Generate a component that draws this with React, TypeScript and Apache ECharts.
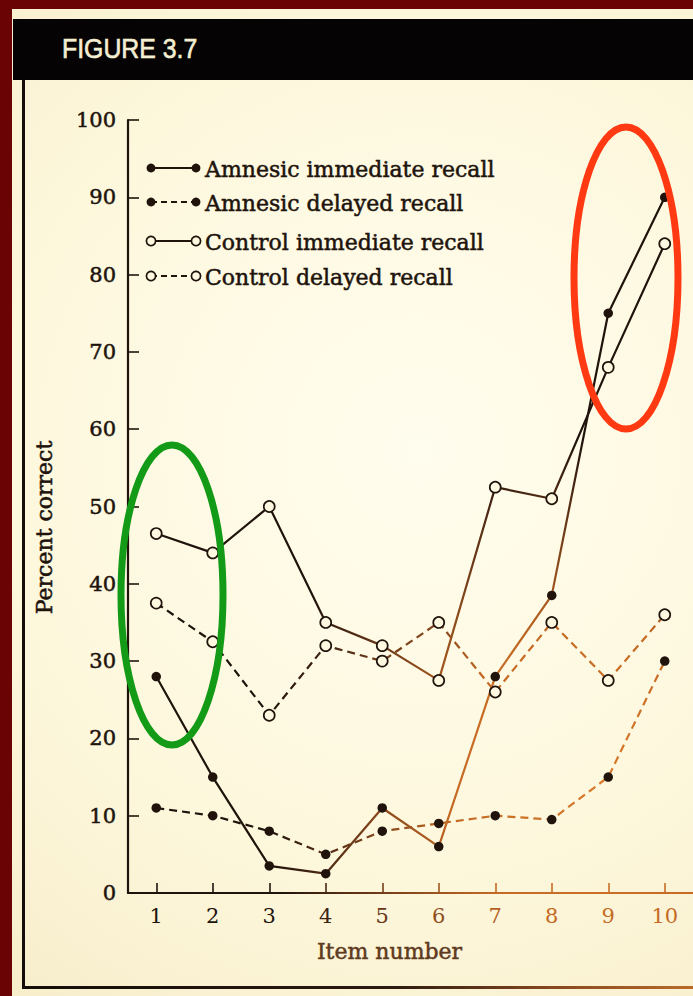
import React, { useEffect, useRef } from "react";
import * as echarts from "echarts";

// ---- data ----
const items = ["1", "2", "3", "4", "5", "6", "7", "8", "9", "10"];
const amnesicImmediate = [28, 15, 3.5, 2.5, 11, 6, 28, 38.5, 75, 90];
const amnesicDelayed = [11, 10, 8, 5, 8, 9, 10, 9.5, 15, 30];
const controlImmediate = [46.5, 44, 50, 35, 32, 27.5, 52.5, 51, 68, 84];
const controlDelayed = [37.5, 32.5, 23, 32, 30, 35, 26, 35, 27.5, 36];
const seriesNames = [
  "Amnesic immediate recall",
  "Amnesic delayed recall",
  "Control immediate recall",
  "Control delayed recall",
];
const yMin = 0;
const yMax = 100;
const yInterval = 10;
const figureTitle = "FIGURE 3.7";
const xAxisName = "Item number";
const yAxisName = "Percent correct";

// ---- styling helpers ----
const W = 693;
const H = 996;
const GRID_LEFT = 128;
const GRID_TOP = 120;
const GRID_BOTTOM = 103;
const INK = "#20130c";
const CREAM = "#fdf8df";
const SERIF = "DejaVu Serif";

const shadeCenter = { x: 600, y: 780, r: 340 };
const shadeStops = [
  { offset: 0, color: "#d97a2a" },
  { offset: 0.45, color: "#c46a24" },
  { offset: 0.75, color: "#6a3818" },
  { offset: 1, color: INK },
];
const shade = () => ({
  type: "radial",
  x: shadeCenter.x,
  y: shadeCenter.y,
  r: shadeCenter.r,
  global: true,
  colorStops: shadeStops,
});

function hexToRgb(h: string) {
  const n = parseInt(h.slice(1), 16);
  return [(n >> 16) & 255, (n >> 8) & 255, n & 255];
}
function shadeAt(px: number, py: number) {
  const d = Math.hypot(px - shadeCenter.x, py - shadeCenter.y) / shadeCenter.r;
  const t = Math.min(1, Math.max(0, d));
  for (let i = 1; i < shadeStops.length; i++) {
    const a = shadeStops[i - 1];
    const b = shadeStops[i];
    if (t <= b.offset) {
      const k = (t - a.offset) / (b.offset - a.offset);
      const ca = hexToRgb(a.color);
      const cb = hexToRgb(b.color);
      const c = ca.map((v, j) => Math.round(v + (cb[j] - v) * k));
      return `rgb(${c[0]},${c[1]},${c[2]})`;
    }
  }
  return INK;
}

const seriesData = [amnesicImmediate, amnesicDelayed, controlImmediate, controlDelayed];
const filled = [true, true, false, false];
const dashed = [false, true, false, true];

const boldish = (color: string) => ({ textBorderColor: color, textBorderWidth: 0.5 });

function buildOption() {
  const band = (W - GRID_LEFT) / items.length;
  const series = seriesData.map((data, i) => ({
    type: "line",
    name: seriesNames[i],
    data,
    symbol: "circle",
    symbolSize: filled[i] ? 9.5 : 11,
    showSymbol: true,
    lineStyle: { color: shade(), width: 2.2, type: dashed[i] ? [8, 5] : "solid" },
    itemStyle: filled[i]
      ? { color: shade(), borderWidth: 0 }
      : { color: CREAM, borderColor: shade(), borderWidth: 1.7 },
    emphasis: { disabled: true },
    z: filled[i] ? 3 : 4,
  }));

  const legendRows = [168, 202, 241, 276];
  const legend: any[] = [];
  seriesNames.forEach((name, i) => {
    const y = legendRows[i];
    legend.push({
      type: "line",
      shape: { x1: 151, y1: y, x2: 196, y2: y },
      style: { stroke: INK, lineWidth: 2.2, lineDash: dashed[i] ? [6, 4] : null },
      z: 5,
    });
    [151, 196].forEach((cx) => {
      legend.push({
        type: "circle",
        shape: { cx, cy: y, r: filled[i] ? 4.4 : 4.6 },
        style: filled[i]
          ? { fill: INK }
          : { fill: CREAM, stroke: INK, lineWidth: 1.7 },
        z: 6,
      });
    });
    legend.push({
      type: "text",
      x: 205,
      y: y + 1,
      style: {
        text: name,
        fill: INK,
        stroke: INK,
        lineWidth: 0.5,
        fontFamily: SERIF,
        fontSize: 22,
        align: "left",
        verticalAlign: "middle",
      },
      z: 6,
    });
  });

  const xLabelColor = (_v: any, idx: number) =>
    shadeAt(GRID_LEFT + (idx + 0.5) * band, 917);

  return {
    animation: false,
    backgroundColor: "#6a0404",
    grid: { left: GRID_LEFT, right: 0, top: GRID_TOP, bottom: GRID_BOTTOM, containLabel: false },
    xAxis: {
      type: "category",
      data: items,
      boundaryGap: true,
      name: xAxisName,
      nameLocation: "middle",
      nameGap: 47,
      nameTextStyle: {
        fontFamily: SERIF,
        fontSize: 22,
        color: "#5e3a1e",
        padding: [0, 42, 0, 0],
        ...boldish("#5e3a1e"),
      },
      axisLine: { show: true, lineStyle: { color: shade(), width: 2.2 } },
      axisTick: {
        show: true,
        inside: true,
        alignWithLabel: true,
        length: 10,
        lineStyle: { color: shade(), width: 1.6 },
      },
      axisLabel: {
        fontFamily: SERIF,
        fontSize: 21,
        margin: 12,
        color: xLabelColor,
      },
      splitLine: { show: false },
    },
    yAxis: {
      type: "value",
      min: yMin,
      max: yMax,
      interval: yInterval,
      name: yAxisName,
      nameLocation: "middle",
      nameRotate: 90,
      nameGap: 73,
      nameTextStyle: {
        fontFamily: SERIF,
        fontSize: 22,
        color: INK,
        padding: [0, 42, 0, 0],
        ...boldish(INK),
      },
      axisLine: { show: true, lineStyle: { color: INK, width: 2.2 } },
      axisTick: { show: true, inside: true, length: 11, lineStyle: { color: INK, width: 1.6 } },
      axisLabel: { fontFamily: SERIF, fontSize: 21, color: INK, margin: 12, ...boldish(INK) },
      splitLine: { show: false },
    },
    series,
    graphic: {
      elements: [
        {
          type: "rect",
          shape: { x: 12, y: 9, width: W - 12, height: H - 9 },
          style: {
            fill: {
              type: "radial",
              x: 420,
              y: 450,
              r: 700,
              global: true,
              colorStops: [
                { offset: 0, color: "#fffdee" },
                { offset: 0.6, color: "#fdf7dc" },
                { offset: 1, color: "#f7edca" },
              ],
            },
          },
          z: -100,
          silent: true,
        },
        {
          type: "rect",
          shape: { x: 13, y: 19, width: W - 13, height: 61 },
          style: { fill: "#050303" },
          z: -50,
        },
        {
          type: "text",
          x: 62,
          y: 49,
          scaleX: 0.92,
          style: {
            text: figureTitle,
            fill: "#f4eed2",
            stroke: "#f4eed2",
            lineWidth: 0.6,
            fontFamily: "Liberation Sans",
            fontSize: 27,
            align: "left",
            verticalAlign: "middle",
          },
          z: -40,
        },
        {
          type: "line",
          shape: { x1: 23.5, y1: 80, x2: 23.5, y2: 988 },
          style: { stroke: "#140d0a", lineWidth: 3 },
          z: -40,
        },
        {
          type: "line",
          shape: { x1: 22, y1: 987.5, x2: W, y2: 987.5 },
          style: {
            stroke: {
              type: "linear",
              x: 22,
              y: 0,
              x2: W,
              y2: 0,
              global: true,
              colorStops: [
                { offset: 0, color: "#140d0a" },
                { offset: 0.55, color: "#2a1a10" },
                { offset: 0.8, color: "#8a4a20" },
                { offset: 1, color: "#b86a2a" },
              ],
            },
            lineWidth: 3,
          },
          z: -40,
        },
        ...legend,
        {
          type: "ellipse",
          shape: { cx: 172, cy: 595, rx: 51, ry: 150 },
          style: { fill: "none", stroke: "#139a16", lineWidth: 7 },
          z: 100,
        },
        {
          type: "ellipse",
          shape: { cx: 626, cy: 278, rx: 52, ry: 151 },
          style: { fill: "none", stroke: "#ff3a12", lineWidth: 7 },
          z: 100,
        },
      ],
    },
  };
}

export default function App() {
  const ref = useRef<HTMLDivElement>(null);
  useEffect(() => {
    if (!ref.current) return;
    const chart = echarts.init(ref.current, null, { renderer: "svg" });
    chart.setOption(buildOption() as any);
    return () => chart.dispose();
  }, []);
  return (
    <div
      ref={ref}
      style={{ position: "fixed", left: 0, top: 0, width: W, height: H }}
    />
  );
}
